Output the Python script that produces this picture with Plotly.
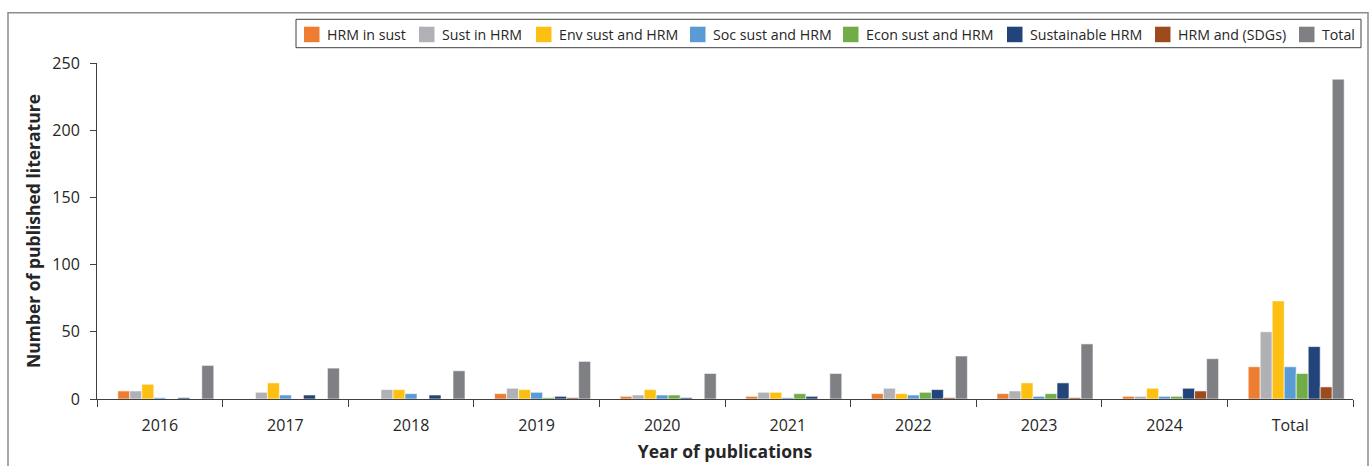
import plotly.graph_objects as go

categories = ["2016", "2017", "2018", "2019", "2020", "2021", "2022", "2023", "2024", "Total"]

hrm_in_sust = [6, 0, 0, 4, 2, 2, 4, 4, 2, 24]
sust_in_hrm = [6, 5, 7, 8, 3, 5, 8, 6, 2, 50]
env_sust_hrm = [11, 12, 7, 7, 7, 5, 4, 12, 8, 73]
soc_sust_hrm = [1, 3, 4, 5, 3, 1, 3, 2, 2, 24]
econ_sust_hrm = [0, 0, 0, 1, 3, 4, 5, 4, 2, 19]
sustainable_hrm = [1, 3, 3, 2, 1, 2, 7, 12, 8, 39]
hrm_sdgs = [0, 0, 0, 1, 0, 0, 1, 1, 6, 9]
total = [25, 23, 21, 28, 19, 19, 32, 41, 30, 238]

series_names = ["HRM in sust", "Sust in HRM", "Env sust and HRM", "Soc sust and HRM",
                "Econ sust and HRM", "Sustainable HRM", "HRM and (SDGs)", "Total"]
series_values = [hrm_in_sust, sust_in_hrm, env_sust_hrm, soc_sust_hrm,
                 econ_sust_hrm, sustainable_hrm, hrm_sdgs, total]
colors = ["#ED7D31", "#B0B1B5", "#FDC012", "#5B9BD5", "#70AD47", "#23447A", "#9C4A1E", "#7F8084"]

FONT = "Open Sans"
W, H = 1372, 466
ML, MR, MT, MB = 97, 19, 63, 67
PW, PH = W - ML - MR, H - MT - MB


def px(x):
    return (x - ML) / PW


def py(y):
    return (H - MB - y) / PH


fig = go.Figure()
# empty leading series slot (the source chart reserves one empty slot per group)
fig.add_trace(go.Bar(x=categories, y=[None] * len(categories), showlegend=False,
                     hoverinfo="skip", name=""))
for name, vals, c in zip(series_names, series_values, colors):
    fig.add_trace(go.Bar(x=categories, y=vals, name=name, showlegend=False,
                         marker=dict(color=c, line=dict(color="white", width=0.6))))

# outer frame and legend frame
shapes = [
    dict(type="rect", xref="paper", yref="paper", x0=px(8), x1=px(1368), y0=py(560), y1=py(12.7),
         line=dict(color="#8C8C8C", width=1.5), layer="below"),
    dict(type="rect", xref="paper", yref="paper", x0=px(296), x1=px(1361), y0=py(47.7), y1=py(19.3),
         line=dict(color="#404040", width=1), layer="below"),
]
annotations = []
legend_left = [304, 419, 536, 690, 843, 1007, 1155, 1299]
sq = 15.5
for xl, name, c in zip(legend_left, series_names, colors):
    shapes.append(dict(type="rect", xref="paper", yref="paper", x0=px(xl), x1=px(xl + sq),
                       y0=py(26.7 + sq), y1=py(26.7), fillcolor=c, line=dict(width=0)))
    annotations.append(dict(xref="paper", yref="paper", x=px(xl + 21), y=py(34.3),
                            xanchor="left", yanchor="middle", showarrow=False, text=name,
                            font=dict(size=14.2, color="#262626", family=FONT)))

fig.update_layout(
    width=W, height=H,
    margin=dict(l=ML, r=MR, t=MT, b=MB),
    paper_bgcolor="white", plot_bgcolor="white",
    barmode="group", bargap=0.14, bargroupgap=0,
    font=dict(family=FONT, size=15, color="#262626"),
    showlegend=False,
    shapes=shapes, annotations=annotations,
)
fig.update_xaxes(type="category", showline=True, linecolor="#404040", linewidth=1,
                 ticks="outside", tickson="boundaries", ticklen=7, tickcolor="#404040",
                 showgrid=False, tickfont=dict(size=16), ticklabelstandoff=12,
                 automargin=False,
                 title=dict(text="<b>Year of publications</b>", font=dict(size=17.5), standoff=10))
fig.update_yaxes(range=[0, 250], dtick=50, showline=True, linecolor="#404040", linewidth=1,
                 ticks="outside", ticklen=6, tickcolor="#404040", showgrid=False,
                 zeroline=False, tickfont=dict(size=16), ticklabelstandoff=7,
                 automargin=False,
                 title=dict(text="<b>Number of published literature</b>", font=dict(size=17.5),
                            standoff=7))

fig.write_html("out.html")
